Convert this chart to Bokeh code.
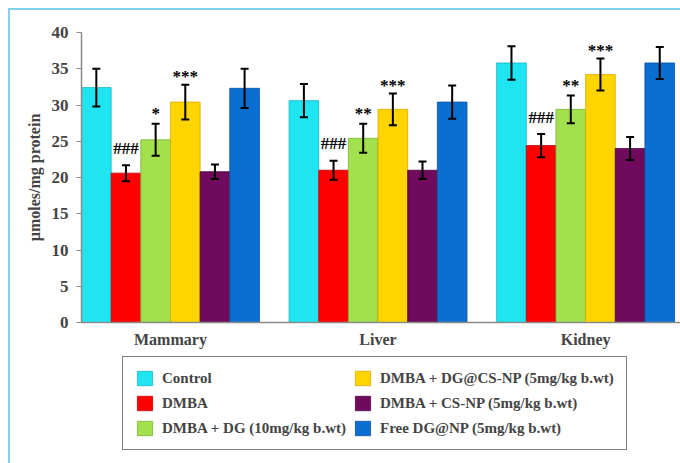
from bokeh.plotting import figure
from bokeh.layouts import column
from bokeh.models import (Legend, LegendItem, Whisker, TeeHead, ColumnDataSource,
                          FixedTicker, Range1d)
from bokeh.core.properties import value
from bokeh.embed import file_html
from bokeh.resources import INLINE

organs = ["Mammary", "Liver", "Kidney"]
groups = ["Control", "DMBA", "DMBA + DG (10mg/kg b.wt)",
          "DMBA + DG@CS-NP (5mg/kg b.wt)", "DMBA + CS-NP (5mg/kg b.wt)",
          "Free DG@NP (5mg/kg b.wt)"]
colors = ["#1fe5f2", "#ff0000", "#a3e04e", "#ffd500", "#700a5d", "#0b6fd2"]
edges = ["#17b5c0", "#c00000", "#7cb237", "#d9a800", "#4a0640", "#08529c"]

control = [32.4, 30.6, 35.8]
control_err = [2.6, 2.3, 2.3]
dmba = [20.6, 21.0, 24.4]
dmba_err = [1.1, 1.3, 1.6]
dmba_dg = [25.2, 25.4, 29.4]
dmba_dg_err = [2.2, 2.0, 1.9]
dmba_dgcs = [30.4, 29.4, 34.2]
dmba_dgcs_err = [2.4, 2.2, 2.2]
dmba_csnp = [20.8, 21.0, 24.0]
dmba_csnp_err = [1.0, 1.2, 1.6]
free_dg = [32.3, 30.4, 35.8]
free_dg_err = [2.7, 2.3, 2.2]

hash_marks = ["###", "###", "###"]        # DMBA vs control
dg_marks = ["*", "**", "**"]             # DMBA + DG
dgcs_marks = ["***", "***", "***"]       # DMBA + DG@CS-NP

series = [control, dmba, dmba_dg, dmba_dgcs, dmba_csnp, free_dg]
errors = [control_err, dmba_err, dmba_dg_err, dmba_dgcs_err, dmba_csnp_err, free_dg_err]

FONT = "Liberation Serif"
n_groups = len(groups)
step = n_groups + 1

p = figure(width=670, height=340, output_backend="svg", toolbar_location=None,
           x_range=Range1d(0, 20.2), y_range=Range1d(0, 40),
           min_border_left=71, min_border_top=22, min_border_right=0,
           min_border_bottom=28)
p.outline_line_color = None
p.xgrid.grid_line_color = None
p.ygrid.grid_line_color = None
p.background_fill_color = "white"

sources = []
for gi, (vals, errs) in enumerate(zip(series, errors)):
    xs = [oi * step + gi + 0.5 for oi in range(len(organs))]
    src = ColumnDataSource(dict(x=xs, top=vals,
                                upper=[v + e for v, e in zip(vals, errs)],
                                lower=[v - e for v, e in zip(vals, errs)]))
    sources.append(src)
    p.vbar(x="x", top="top", width=1.0, bottom=0, source=src,
           fill_color=colors[gi], line_color=edges[gi], line_width=0.8)
    w = Whisker(source=src, base="x", upper="upper", lower="lower",
                dimension="height", line_color="black", line_width=2,
                upper_head=TeeHead(size=8, line_width=2, line_color="black"),
                lower_head=TeeHead(size=8, line_width=2, line_color="black"),
                level="overlay")
    p.add_layout(w)

def add_marks(gi, marks, offset):
    vals, errs = series[gi], errors[gi]
    xs = [oi * step + gi + 0.5 for oi in range(len(organs))]
    ys = [v + e for v, e in zip(vals, errs)]
    src = ColumnDataSource(dict(x=xs, y=ys, t=marks))
    p.text(x="x", y="y", text="t", source=src, text_align="center",
           text_baseline="alphabetic", y_offset=offset,
           text_font=value(FONT), text_font_style="bold",
           text_font_size="17px", text_color="black")

add_marks(1, hash_marks, -17)
add_marks(2, dg_marks, -10)
add_marks(3, dgcs_marks, -8)

# axes
p.yaxis.ticker = FixedTicker(ticks=list(range(0, 41, 5)))
p.yaxis.axis_label = "µmoles/mg protein"
p.yaxis.axis_label_text_font = FONT
p.yaxis.axis_label_text_font_style = "bold"
p.yaxis.axis_label_text_font_size = "16px"
p.yaxis.axis_label_standoff = 6
p.yaxis.major_label_text_font = FONT
p.yaxis.major_label_text_font_style = "bold"
p.yaxis.major_label_text_font_size = "17px"
p.yaxis.major_label_standoff = 8
p.yaxis.major_tick_in = 0
p.yaxis.major_tick_out = 5
p.yaxis.minor_tick_line_color = None
p.yaxis.axis_line_color = "#8a8a8a"
p.yaxis.axis_line_width = 1.5
p.yaxis.major_tick_line_color = "#8a8a8a"

centers = [oi * step + (n_groups / 2) for oi in range(len(organs))]
p.xaxis.ticker = FixedTicker(ticks=centers)
p.xaxis.major_label_overrides = {c: o for c, o in zip(centers, organs)}
p.xaxis.major_label_text_font = FONT
p.xaxis.major_label_text_font_style = "bold"
p.xaxis.major_label_text_font_size = "16px"
p.xaxis.major_label_standoff = 2
p.xaxis.major_tick_line_color = None
p.xaxis.minor_tick_line_color = None
p.xaxis.axis_line_color = "#8a8a8a"
p.xaxis.axis_line_width = 1.5

# legend panel (separate figure below the chart); its proxy bars lie outside its view
lg = figure(width=670, height=113, output_backend="svg", toolbar_location=None,
            x_range=Range1d(-3, -2), y_range=Range1d(-3, -2),
            x_axis_location=None, y_axis_location=None,
            min_border_left=0, min_border_right=0, min_border_top=0,
            min_border_bottom=0)
lg.xgrid.grid_line_color = None
lg.ygrid.grid_line_color = None
lg.outline_line_color = None
items = []
for gi in range(n_groups):
    r = lg.vbar(x="x", top="top", width=1.0, source=sources[gi],
                fill_color=colors[gi], line_color=edges[gi], line_width=0.8)
    items.append(LegendItem(label=groups[gi], renderers=[r]))

legend = Legend(items=items, orientation="vertical", nrows=3,
                location=(41, 13), border_line_color="black", border_line_width=1.2,
                label_text_font=FONT, label_text_font_style="bold",
                label_text_font_size="15px", glyph_width=19, glyph_height=18,
                label_height=18, label_standoff=8, spacing=7, padding=12,
                margin=0, background_fill_color="white")
lg.add_layout(legend, "center")

layout = column(p, lg, spacing=0,
                styles={"margin-left": "8px", "margin-top": "8px",
                        "border-top": "2px solid #7fd0ea",
                        "border-left": "2px solid #7fd0ea"})

open("out.html", "w").write(file_html(layout, INLINE))
